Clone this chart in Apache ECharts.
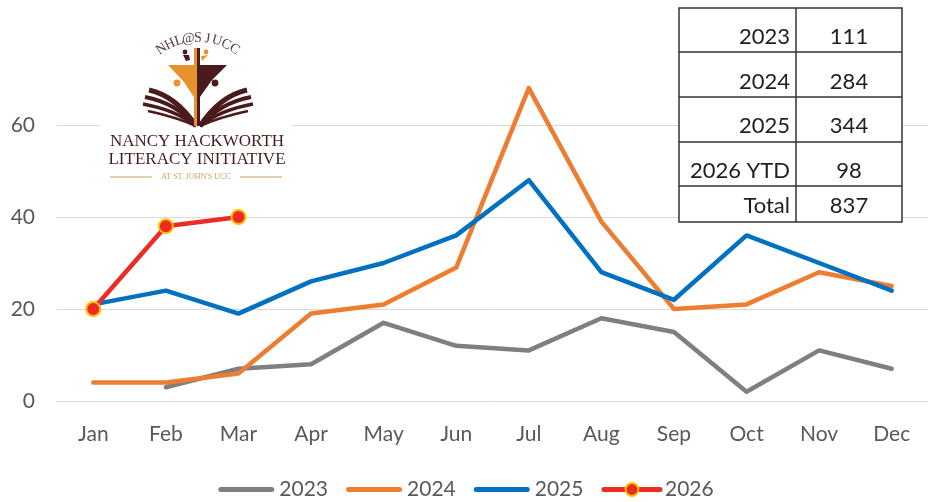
<!DOCTYPE html>
<html>
<head>
<meta charset="utf-8">
<script src="https://cdn.jsdelivr.net/npm/echarts@6/dist/echarts.min.js"></script>
<style>
html,body{margin:0;padding:0;background:#fff;}
#chart{width:932px;height:502px;}
</style>
</head>
<body>
<div id="chart"></div>
<script>
// ---- data ----
var months = ['Jan','Feb','Mar','Apr','May','Jun','Jul','Aug','Sep','Oct','Nov','Dec'];
var s2023 = [null, 3, 7, 8, 17, 12, 11, 18, 15, 2, 11, 7];
var s2024 = [4, 4, 6, 19, 21, 29, 68, 39, 20, 21, 28, 25];
var s2025 = [21, 24, 19, 26, 30, 36, 48, 28, 22, 36, 30, 24];
var s2026 = [20, 38, 40, null, null, null, null, null, null, null, null, null];
var seriesNames = ['2023', '2024', '2025', '2026'];
var tableLabels = ['2023', '2024', '2025', '2026 YTD', 'Total'];
var tableValues = ['111', '284', '344', '98', '837'];
var yTicks = [0, 20, 40, 60];

var chart = echarts.init(document.getElementById('chart'), null, {renderer: 'canvas'});
var FONT = 'Lato, "Open Sans", sans-serif';
var MAROON = '#4a1a1d';
var ORANGE = '#e8922e';
var GOLD = '#c9a45e';

// ---- table graphic ----
var tbl = {left: 679, right: 902, mid: 796, rows: [8, 52, 97, 142, 186, 222]};
var tableEls = [];
tableEls.push({type: 'rect', z: 100, shape: {x: tbl.left, y: tbl.rows[0], width: tbl.right - tbl.left, height: tbl.rows[5] - tbl.rows[0]},
  style: {fill: '#fff', stroke: '#333', lineWidth: 1.5}});
tableEls.push({type: 'line', z: 101, shape: {x1: tbl.mid, y1: tbl.rows[0], x2: tbl.mid, y2: tbl.rows[5]}, style: {stroke: '#333', lineWidth: 1.5}});
for (var r = 1; r < 5; r++) {
  tableEls.push({type: 'line', z: 101, shape: {x1: tbl.left, y1: tbl.rows[r], x2: tbl.right, y2: tbl.rows[r]}, style: {stroke: '#333', lineWidth: 1.5}});
}
var textY = [37, 82, 126, 171, 206];
for (var i = 0; i < tableLabels.length; i++) {
  tableEls.push({type: 'text', z: 102, x: 790, y: textY[i], style: {text: tableLabels[i], fill: '#1e1e1e', font: '22px ' + FONT, align: 'right', verticalAlign: 'middle'}});
  tableEls.push({type: 'text', z: 102, x: 849, y: textY[i], style: {text: tableValues[i], fill: '#1e1e1e', font: '22px ' + FONT, align: 'center', verticalAlign: 'middle'}});
}

// ---- logo graphic ----
var logoEls = [];
logoEls.push({type: 'rect', z: 100, shape: {x: 100, y: 20, width: 192, height: 170}, style: {fill: '#fff'}});
// arched text
var arch = 'NHL@SJUCC';
var cx = 198, cy = 103, rad = 65, spread = 34;
for (var k = 0; k < arch.length; k++) {
  var ang = -spread + (2 * spread) * k / (arch.length - 1);
  var a = ang * Math.PI / 180;
  logoEls.push({type: 'text', z: 103, x: cx + rad * Math.sin(a), y: cy - rad * Math.cos(a), rotation: -a,
    style: {text: arch[k], fill: '#5b3b3d', font: '14px "Liberation Serif", serif', align: 'center', verticalAlign: 'middle'}});
}
// book strokes
var leftStarts = [[149, 90, 5], [145, 97, 4], [143, 104, 3.5], [148, 111, 2.5]];
leftStarts.forEach(function (p) {
  logoEls.push({type: 'bezierCurve', z: 103, shape: {x1: p[0], y1: p[1], x2: 196, y2: 126, cpx1: 176, cpy1: p[1] + 6},
    style: {stroke: MAROON, lineWidth: p[2], fill: null}});
  logoEls.push({type: 'bezierCurve', z: 103, shape: {x1: 396 - p[0], y1: p[1], x2: 200, y2: 126, cpx1: 220, cpy1: p[1] + 6},
    style: {stroke: MAROON, lineWidth: p[2], fill: null}});
});
// cross
logoEls.push({type: 'polygon', z: 104, shape: {points: [[168, 65], [195, 65], [195, 99], [184, 82]]}, style: {fill: ORANGE}});
logoEls.push({type: 'polygon', z: 104, shape: {points: [[200, 65], [227, 65], [212, 80], [200, 97]]}, style: {fill: MAROON}});
logoEls.push({type: 'rect', z: 104, shape: {x: 194, y: 48, width: 3, height: 78}, style: {fill: ORANGE}});
logoEls.push({type: 'rect', z: 104, shape: {x: 197, y: 48, width: 3, height: 78}, style: {fill: MAROON}});
// figures / dots
logoEls.push({type: 'circle', z: 104, shape: {cx: 185, cy: 52, r: 2.4}, style: {fill: MAROON}});
logoEls.push({type: 'polygon', z: 104, shape: {points: [[183, 55], [189, 55], [190, 60], [186, 61]]}, style: {fill: MAROON}});
logoEls.push({type: 'circle', z: 104, shape: {cx: 206, cy: 52, r: 2.4}, style: {fill: ORANGE}});
logoEls.push({type: 'polygon', z: 104, shape: {points: [[201, 56], [208, 55], [202, 61]]}, style: {fill: ORANGE}});
logoEls.push({type: 'circle', z: 104, shape: {cx: 177, cy: 83, r: 3.4}, style: {fill: ORANGE}});
logoEls.push({type: 'circle', z: 104, shape: {cx: 215, cy: 83, r: 3.4}, style: {fill: MAROON}});
// text lines
logoEls.push({type: 'text', z: 103, x: 197, y: 142, style: {text: 'NANCY HACKWORTH', fill: MAROON, font: '17px "Liberation Serif", serif', align: 'center', verticalAlign: 'middle'}});
logoEls.push({type: 'text', z: 103, x: 197, y: 160, style: {text: 'LITERACY INITIATIVE', fill: MAROON, font: '17px "Liberation Serif", serif', align: 'center', verticalAlign: 'middle'}});
logoEls.push({type: 'text', z: 103, x: 196, y: 177, style: {text: "AT ST. JOHN'S UCC", fill: GOLD, font: '8px "Liberation Serif", serif', align: 'center', verticalAlign: 'middle'}});
logoEls.push({type: 'line', z: 103, shape: {x1: 110, y1: 177, x2: 152, y2: 177}, style: {stroke: GOLD, lineWidth: 1}});
logoEls.push({type: 'line', z: 103, shape: {x1: 240, y1: 177, x2: 282, y2: 177}, style: {stroke: GOLD, lineWidth: 1}});

function lineSeries(name, data, color, extra) {
  var s = {
    name: name, type: 'line', data: data, clip: false,
    symbol: 'none', smooth: false, connectNulls: false,
    lineStyle: {color: color, width: 4.5, cap: 'round', join: 'round'},
    itemStyle: {color: color},
    emphasis: {disabled: true},
    animation: false
  };
  if (extra) Object.assign(s, extra);
  return s;
}

// legend bar icon (thin rounded bar inside a 56x16 box)
var barIcon = 'path://M0,0L0.01,0M56,16L55.99,16M2.5,5.5L53.5,5.5A2.5,2.5 0 0 1 53.5,10.5L2.5,10.5A2.5,2.5 0 0 1 2.5,5.5Z';

var option = {
  backgroundColor: '#fff',
  animation: false,
  grid: {left: 57, right: 4, top: 125, bottom: 101, containLabel: false},
  xAxis: {
    type: 'category', data: months, boundaryGap: true,
    axisLine: {show: false}, axisTick: {show: false},
    axisLabel: {color: '#595959', fontSize: 21, fontFamily: FONT, margin: 23}
  },
  yAxis: {
    type: 'value', min: yTicks[0], max: yTicks[yTicks.length - 1], interval: 20,
    axisLine: {show: false}, axisTick: {show: false},
    axisLabel: {color: '#595959', fontSize: 21, fontFamily: FONT, margin: 22},
    splitLine: {lineStyle: {color: '#d9d9d9', width: 1}}
  },
  legend: {
    data: [
      {name: seriesNames[0], icon: barIcon},
      {name: seriesNames[1], icon: barIcon},
      {name: seriesNames[2], icon: barIcon},
      {name: seriesNames[3], lineStyle: {width: 5}}
    ],
    left: 'center', top: 474, itemWidth: 56, itemHeight: 16, itemGap: 18,
    textStyle: {color: '#595959', fontSize: 21, fontFamily: FONT},
    selectedMode: false
  },
  series: [
    lineSeries(seriesNames[0], s2023, '#7f7f7f'),
    lineSeries(seriesNames[1], s2024, '#ed7d31'),
    lineSeries(seriesNames[2], s2025, '#0070c0'),
    lineSeries(seriesNames[3], s2026, '#ee2a24', {
      symbol: 'circle', symbolSize: 14, showSymbol: true,
      itemStyle: {color: '#ee2a24', borderColor: '#ffc000', borderWidth: 2}
    })
  ],
  graphic: {elements: logoEls.concat(tableEls)}
};
chart.setOption(option);
</script>
</body>
</html>
